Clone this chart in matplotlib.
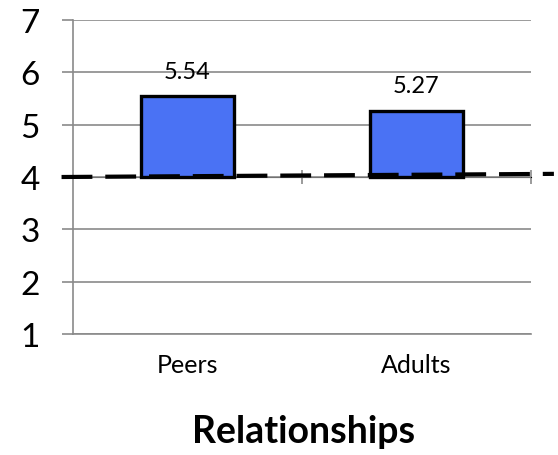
import matplotlib
matplotlib.use("Agg")
import matplotlib.pyplot as plt

categories = ["Peers", "Adults"]
values = [5.54, 5.27]
value_labels = ["5.54", "5.27"]
bar_base = 4
ref_x = [-0.55, 1.6]
ref_y = [4.0, 4.06]
y_ticks = [1, 2, 3, 4, 5, 6, 7]
y_tick_labels = ["1", "2", "3", "4", "5", "6", "7"]

plt.rcParams['font.family'] = ['Lato', 'DejaVu Sans']
GRAY = "#8a8a8a"

fig = plt.figure(figsize=(5.58, 4.56), dpi=100)
ax = fig.add_axes([73/558, 1-335/456, (531-73)/558, (335-21)/456])

x = list(range(len(categories)))
heights = [v - bar_base for v in values]
ax.bar(x, heights, bottom=bar_base, width=0.41, color="#4a72f4",
       edgecolor="black", linewidth=2.4, zorder=3)
for xi, v, lab in zip(x, values, value_labels):
    ax.annotate(lab, (xi, v), xytext=(0, 13.5), textcoords="offset points",
                ha="center", va="baseline", fontsize=17, zorder=5)

ax.plot(ref_x, ref_y, color="black", linewidth=3, linestyle=(0, (7.4, 3.1)),
        clip_on=False, zorder=4)

ax.set_xlim(-0.5, 1.5)
ax.set_ylim(1, 7)
ax.set_yticks(y_ticks)
ax.set_yticklabels(y_tick_labels, fontsize=24)
ax.yaxis.grid(True, color=GRAY, linewidth=1.2, zorder=0)
ax.tick_params(axis="y", length=8, width=1.2, color=GRAY, pad=16)

ax.set_xticks(x)
ax.set_xticklabels(categories, fontsize=18)
ax.tick_params(axis="x", which="major", length=0, pad=14)

for s in ["top", "right"]:
    ax.spines[s].set_visible(False)
for s in ["left", "bottom"]:
    ax.spines[s].set_color(GRAY)
    ax.spines[s].set_linewidth(1.2)

# category axis crossing at value 4
sec = ax.secondary_xaxis((bar_base - 1) / (7 - 1))
sec.set_xticks([])
sec.set_xticks([0.5, 1.5], minor=True)
sec.tick_params(axis="x", which="minor", length=10, width=1.2, color=GRAY,
                direction="inout")
sec.spines["bottom"].set_color(GRAY)
sec.spines["bottom"].set_linewidth(1.2)
sec.spines["bottom"].set_zorder(1)

fig.text(304/558, 1-443/456, "Relationships", ha="center", va="baseline",
         fontsize=27, fontweight="bold")

fig.savefig("out.png", dpi=100)
